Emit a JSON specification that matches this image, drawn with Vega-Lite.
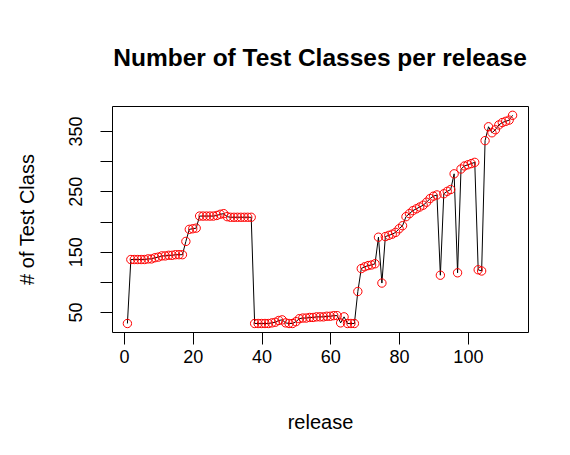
{
  "$schema": "https://vega.github.io/schema/vega-lite/v6.json",
  "width": 416,
  "height": 226,
  "autosize": {"type": "none"},
  "padding": {"left": 112, "top": 106, "right": 42, "bottom": 123},
  "background": "white",
  "title": {
    "text": "Number of Test Classes per release",
    "font": "Liberation Sans",
    "fontSize": 24.5,
    "fontWeight": "bold",
    "color": "black",
    "anchor": "middle",
    "baseline": "alphabetic",
    "offset": 16
  },
  "config": {
    "view": {"stroke": "black", "strokeWidth": 1},
    "axis": {
      "grid": false,
      "domain": false,
      "tickColor": "black",
      "tickSize": 12,
      "tickWidth": 1,
      "labelFont": "Liberation Sans",
      "labelFontSize": 18,
      "labelColor": "black",
      "labelOverlap": false,
      "labelBound": false,
      "labelFlush": false,
      "titleFont": "Liberation Sans",
      "titleFontSize": 20,
      "titleFontWeight": "normal",
      "titleColor": "black"
    }
  },
  "data": {
    "values": [
      {"release": 1, "classes": 31},
      {"release": 2, "classes": 137},
      {"release": 3, "classes": 137},
      {"release": 4, "classes": 137},
      {"release": 5, "classes": 137},
      {"release": 6, "classes": 137},
      {"release": 7, "classes": 138},
      {"release": 8, "classes": 138},
      {"release": 9, "classes": 140},
      {"release": 10, "classes": 141},
      {"release": 11, "classes": 143},
      {"release": 12, "classes": 143},
      {"release": 13, "classes": 144},
      {"release": 14, "classes": 144},
      {"release": 15, "classes": 145},
      {"release": 16, "classes": 145},
      {"release": 17, "classes": 145},
      {"release": 18, "classes": 167},
      {"release": 19, "classes": 187},
      {"release": 20, "classes": 188},
      {"release": 21, "classes": 189},
      {"release": 22, "classes": 209},
      {"release": 23, "classes": 209},
      {"release": 24, "classes": 209},
      {"release": 25, "classes": 209},
      {"release": 26, "classes": 209},
      {"release": 27, "classes": 210},
      {"release": 28, "classes": 212},
      {"release": 29, "classes": 213},
      {"release": 30, "classes": 208},
      {"release": 31, "classes": 207},
      {"release": 32, "classes": 207},
      {"release": 33, "classes": 207},
      {"release": 34, "classes": 207},
      {"release": 35, "classes": 207},
      {"release": 36, "classes": 207},
      {"release": 37, "classes": 207},
      {"release": 38, "classes": 31},
      {"release": 39, "classes": 31},
      {"release": 40, "classes": 31},
      {"release": 41, "classes": 31},
      {"release": 42, "classes": 31},
      {"release": 43, "classes": 32},
      {"release": 44, "classes": 33},
      {"release": 45, "classes": 36},
      {"release": 46, "classes": 37},
      {"release": 47, "classes": 32},
      {"release": 48, "classes": 31},
      {"release": 49, "classes": 31},
      {"release": 50, "classes": 34},
      {"release": 51, "classes": 39},
      {"release": 52, "classes": 40},
      {"release": 53, "classes": 40},
      {"release": 54, "classes": 41},
      {"release": 55, "classes": 41},
      {"release": 56, "classes": 42},
      {"release": 57, "classes": 42},
      {"release": 58, "classes": 42},
      {"release": 59, "classes": 43},
      {"release": 60, "classes": 43},
      {"release": 61, "classes": 44},
      {"release": 62, "classes": 44},
      {"release": 63, "classes": 32},
      {"release": 64, "classes": 42},
      {"release": 65, "classes": 31},
      {"release": 66, "classes": 31},
      {"release": 67, "classes": 31},
      {"release": 68, "classes": 84},
      {"release": 69, "classes": 122},
      {"release": 70, "classes": 125},
      {"release": 71, "classes": 127},
      {"release": 72, "classes": 128},
      {"release": 73, "classes": 130},
      {"release": 74, "classes": 174},
      {"release": 75, "classes": 98},
      {"release": 76, "classes": 175},
      {"release": 77, "classes": 177},
      {"release": 78, "classes": 179},
      {"release": 79, "classes": 182},
      {"release": 80, "classes": 188},
      {"release": 81, "classes": 193},
      {"release": 82, "classes": 208},
      {"release": 83, "classes": 213},
      {"release": 84, "classes": 218},
      {"release": 85, "classes": 221},
      {"release": 86, "classes": 224},
      {"release": 87, "classes": 227},
      {"release": 88, "classes": 232},
      {"release": 89, "classes": 238},
      {"release": 90, "classes": 242},
      {"release": 91, "classes": 244},
      {"release": 92, "classes": 111},
      {"release": 93, "classes": 246},
      {"release": 94, "classes": 250},
      {"release": 95, "classes": 253},
      {"release": 96, "classes": 279},
      {"release": 97, "classes": 115},
      {"release": 98, "classes": 287},
      {"release": 99, "classes": 292},
      {"release": 100, "classes": 294},
      {"release": 101, "classes": 296},
      {"release": 102, "classes": 298},
      {"release": 103, "classes": 120},
      {"release": 104, "classes": 118},
      {"release": 105, "classes": 334},
      {"release": 106, "classes": 357},
      {"release": 107, "classes": 347},
      {"release": 108, "classes": 352},
      {"release": 109, "classes": 360},
      {"release": 110, "classes": 364},
      {"release": 111, "classes": 366},
      {"release": 112, "classes": 368},
      {"release": 113, "classes": 376}
    ]
  },
  "encoding": {
    "x": {
      "field": "release",
      "type": "quantitative",
      "scale": {"domain": [-3.48, 117.48], "nice": false, "zero": false},
      "axis": {
        "values": [0, 20, 40, 60, 80, 100],
        "title": "release",
        "labelBaseline": "alphabetic",
        "labelPadding": 18,
        "titleX": 208,
        "titleY": 96,
        "titleAlign": "center",
        "titleBaseline": "alphabetic"
      }
    },
    "y": {
      "field": "classes",
      "type": "quantitative",
      "scale": {"domain": [16.9, 391.4], "nice": false, "zero": false},
      "axis": {
        "values": [50, 100, 150, 200, 250, 300, 350],
        "labelExpr": "datum.value % 100 == 50 ? datum.label : ''",
        "title": "# of Test Class",
        "labelAngle": -90,
        "labelAlign": "center",
        "labelBaseline": "alphabetic",
        "labelPadding": 19,
        "titleAngle": -90,
        "titleX": -79,
        "titleY": 113,
        "titleAlign": "center",
        "titleBaseline": "alphabetic"
      }
    }
  },
  "layer": [
    {"mark": {"type": "line", "color": "black", "strokeWidth": 1}},
    {"mark": {"type": "point", "shape": "circle", "filled": false, "color": "red", "size": 70, "strokeWidth": 1, "opacity": 1}}
  ]
}
